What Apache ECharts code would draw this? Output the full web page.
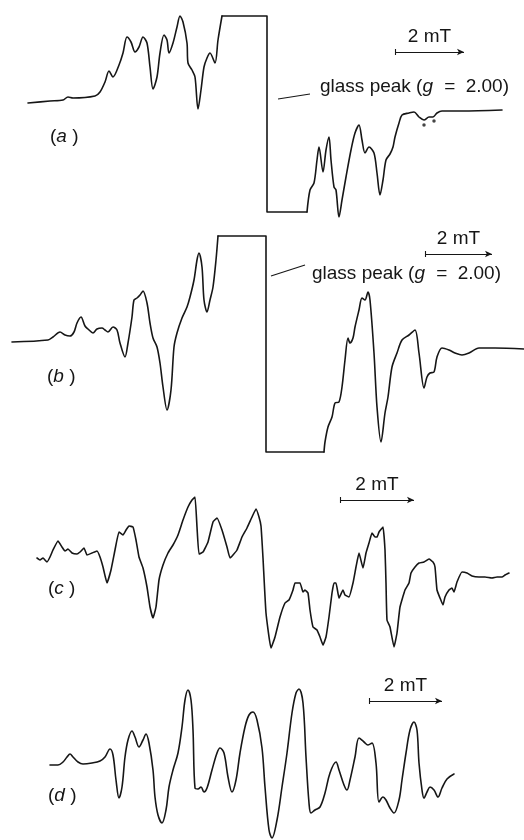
<!DOCTYPE html>
<html>
<head>
<meta charset="utf-8">
<script src="https://cdn.jsdelivr.net/npm/echarts@6/dist/echarts.min.js"></script>
<style>
html,body{margin:0;padding:0;background:#fff;}
#chart{width:524px;height:840px;}
</style>
</head>
<body>
<div id="chart"></div>
<script>
// Field position (scan units) and signal deflection (relative to each trace's baseline)
const traceA = [[28,0],[50,2],[63,3],[68,6],[73,5],[95,7],[100,11],[105,21],[109,32],[113,26],[119,38],[123,50],[127,66],[131,61],[135,51],[139,56],[143,66],[147,60],[150,36],[153,14],[157,26],[160,50],[164,68],[167,63],[169,50],[173,60],[177,76],[180,87],[183,81],[187,60],[188,40],[192,33],[195,26],[198,-6],[201,13],[204,36],[207,45],[210,50],[215,40],[218,63],[222,87],[267,87],[267,-109],[307,-109],[310,-87],[314,-80],[317,-57],[319,-44],[323,-69],[326,-47],[329,-34],[331,-57],[334,-84],[336,-87],[339,-114],[342,-97],[346,-74],[351,-47],[355,-30],[359,-22],[362,-37],[365,-50],[369,-44],[374,-50],[377,-70],[380,-92],[383,-77],[386,-57],[390,-51],[393,-44],[395,-34],[399,-20],[402,-12],[409,-10],[414,-9],[419,-14],[424,-17],[429,-14],[433,-14],[437,-10],[442,-8],[462,-8],[502,-7]];
const markersA = [[424,-22],[434,-18]];

const traceB = [[12,0],[48,2],[53,5],[60,10],[65,7],[70,6],[74,10],[77,19],[81,25],[85,16],[88,13],[93,9],[97,13],[102,14],[105,12],[108,10],[113,15],[117,12],[120,-1],[125,-15],[128,-1],[132,25],[134,42],[137,44],[140,47],[143,51],[147,39],[150,19],[153,4],[157,-5],[160,-21],[163,-45],[167,-68],[171,-48],[174,-5],[177,9],[182,24],[187,35],[190,45],[194,62],[197,82],[199,89],[202,75],[204,42],[207,30],[210,42],[213,55],[216,82],[218,106],[266,106],[266,-110],[324,-110],[325,-100],[328,-85],[332,-75],[335,-61],[339,-60],[342,-45],[345,-18],[348,4],[350,-1],[353,4],[355,15],[359,32],[362,44],[365,42],[368,50],[370,42],[374,-11],[377,-65],[381,-100],[385,-71],[388,-55],[392,-25],[397,-11],[402,2],[409,7],[415,12],[419,-11],[424,-46],[427,-35],[430,-31],[434,-30],[437,-15],[442,-6],[449,-8],[455,-11],[462,-13],[469,-11],[479,-6],[495,-6],[524,-7]];

const traceC = [[37,0],[40,-2],[43,0],[47,-4],[50,1],[53,8],[58,17],[62,11],[65,7],[68,9],[72,5],[77,4],[80,6],[84,10],[87,3],[92,5],[97,7],[100,1],[103,-9],[107,-25],[111,-12],[115,8],[119,26],[123,23],[126,28],[129,32],[133,31],[136,18],[139,1],[143,-10],[147,-29],[150,-49],[153,-60],[156,-49],[159,-22],[163,-7],[168,5],[173,13],[178,23],[183,38],[188,51],[192,58],[195,61],[197,31],[199,4],[203,6],[208,16],[213,36],[217,40],[222,28],[227,11],[230,0],[233,3],[237,8],[242,21],[247,30],[252,41],[256,49],[259,41],[261,32],[263,0],[266,-55],[271,-90],[275,-79],[280,-59],[285,-45],[289,-42],[293,-32],[295,-25],[300,-25],[303,-34],[305,-32],[308,-35],[310,-52],[313,-69],[317,-72],[320,-79],[323,-87],[326,-79],[329,-59],[332,-35],[334,-25],[336,-25],[339,-40],[343,-32],[345,-37],[349,-39],[353,-25],[356,-9],[359,5],[363,-10],[366,5],[369,15],[372,25],[375,21],[377,21],[379,26],[383,31],[385,8],[386,-25],[387,-62],[390,-69],[394,-89],[397,-75],[400,-49],[405,-32],[409,-25],[411,-15],[415,-9],[419,-5],[424,-4],[429,-1],[433,-4],[435,-9],[437,-32],[440,-40],[443,-47],[445,-39],[449,-32],[452,-30],[454,-34],[457,-24],[462,-14],[467,-15],[472,-18],[479,-19],[485,-19],[492,-20],[497,-19],[502,-19],[505,-17],[509,-15]];

const traceD = [[50,0],[58,0],[63,3],[67,8],[70,11],[73,8],[78,3],[83,1],[92,2],[100,4],[105,8],[110,16],[113,10],[116,-15],[119,-33],[122,-22],[125,8],[128,25],[132,34],[135,28],[139,18],[143,25],[146,31],[149,22],[153,-5],[155,-32],[158,-50],[162,-58],[166,-45],[169,-22],[173,-5],[178,12],[182,38],[185,65],[188,75],[191,65],[193,35],[195,-23],[198,-24],[201,-22],[204,-27],[207,-23],[212,-5],[217,12],[220,17],[224,12],[228,-12],[232,-27],[236,-15],[240,12],[245,38],[249,50],[253,53],[257,45],[262,17],[265,-22],[269,-65],[272,-73],[277,-55],[282,-22],[287,12],[292,52],[296,72],[299,76],[303,62],[306,8],[309,-38],[311,-48],[315,-45],[320,-42],[325,-28],[330,-8],[336,3],[339,-5],[344,-20],[347,-25],[350,-15],[355,8],[359,27],[364,23],[368,20],[372,22],[376,2],[379,-37],[383,-32],[386,-35],[390,-43],[394,-48],[399,-35],[402,-15],[406,12],[410,35],[414,43],[417,35],[419,2],[422,-25],[424,-33],[427,-27],[430,-22],[434,-25],[438,-32],[442,-23],[447,-14],[454,-9]];

// scale bars: [start field, end field, level]
const scaleBars = [[395,464,51],[425,492,88],[340,414,58],[369,442,64]];
const scaleLabel = '2 mT';
const panelLetters = ['a','b','c','d'];
const glassPointers = [[[278,4],[310,9]],[[271,66],[305,77]]];

const FONT = '"Liberation Sans", Arial, sans-serif';
const INK = '#161616';

const panels = [
  {top:0, height:230, min:-127, max:103},
  {top:230, height:230, min:-118, max:112},
  {top:460, height:190, min:-92, max:98},
  {top:650, height:190, min:-75, max:115}
];
const traces = [traceA, traceB, traceC, traceD];
const smoothness = [0.3, 0.3, 0.12, 0.35];

const grids = panels.map(p => ({left:0, right:0, top:p.top, height:p.height}));
const xAxes = panels.map((p,i) => ({type:'value', gridIndex:i, min:0, max:524, show:false}));
const yAxes = panels.map((p,i) => ({type:'value', gridIndex:i, min:p.min, max:p.max, show:false}));

// split a trace at its clipped (saturated) glass-peak box so the box keeps sharp corners
function splitAtBox(t) {
  for (let k = 1; k < t.length - 1; k++) {
    if (t[k][0] === t[k+1][0]) {
      return [t.slice(0, k), t.slice(k-1, k+3), t.slice(k+2)];
    }
  }
  return [t];
}

const series = [];
traces.forEach((t,i) => {
  const parts = splitAtBox(t);
  parts.forEach((part, j) => {
    const isBox = parts.length === 3 && j === 1;
    series.push({
      type:'line', xAxisIndex:i, yAxisIndex:i, data:part,
      showSymbol:false, symbol:'none', smooth: isBox ? false : smoothness[i],
      lineStyle:{color:INK, width:1.6, join:'round', cap:'round'},
      silent:true
    });
  });
  const sb = scaleBars[i];
  const mlData = [
    [{coord:[sb[0], sb[2]], symbol:'none'}, {coord:[sb[1], sb[2]], symbol:'arrow', symbolSize:[5,7],
      label:{show:true, formatter:scaleLabel, position:'insideMiddleTop', distance:6, color:INK, fontFamily:FONT, fontSize:19}}],
    [{coord:[sb[0], sb[2]-3], symbol:'none'}, {coord:[sb[0], sb[2]+3], symbol:'none'}]
  ];
  if (i < 2) {
    const g = glassPointers[i];
    mlData.push([{coord:g[0], symbol:'none'}, {coord:g[1], symbol:'none'}]);
  }
  series.push({
    type:'line', xAxisIndex:i, yAxisIndex:i, data:[], silent:true,
    markLine:{
      silent:true, animation:false, symbol:'none',
      lineStyle:{color:INK, width:1.1, type:'solid'},
      label:{show:false},
      emphasis:{disabled:true},
      data: mlData
    }
  });
});

series.push({
  type:'scatter', xAxisIndex:0, yAxisIndex:0, data:markersA,
  symbol:'circle', symbolSize:3.5, itemStyle:{color:INK}, silent:true
});

const labelRich = {
  n:{fontFamily:FONT, fontSize:19, color:INK},
  i:{fontFamily:FONT, fontSize:19, fontStyle:'italic', color:INK}
};
const letterPos = [[50,138],[47,378],[48,590],[48,797]];
const graphics = panelLetters.map((l,i) => ({
  type:'text', left:letterPos[i][0], top:letterPos[i][1]-11, silent:true,
  style:{text:'{n|(}{i|'+l+'}{n| )}', rich:labelRich, fill:INK}
}));
const glassPos = [[320,88],[312,275]];
glassPos.forEach(p => {
  graphics.push({
    type:'text', left:p[0], top:p[1]-11, silent:true,
    style:{text:'{n|glass peak (}{i|g}{s| = }{n|2.00)}', fill:INK, rich:{
      n:{fontFamily:FONT, fontSize:19, color:INK},
      i:{fontFamily:FONT, fontSize:19, fontStyle:'italic', color:INK},
      s:{fontFamily:FONT, fontSize:19, color:INK, padding:[0,5,0,6]}
    }}
  });
});

const chart = echarts.init(document.getElementById('chart'), null, {renderer:'canvas'});
chart.setOption({
  animation:false,
  backgroundColor:'#fff',
  grid:grids, xAxis:xAxes, yAxis:yAxes,
  series:series,
  graphic:graphics
});
</script>
</body>
</html>
